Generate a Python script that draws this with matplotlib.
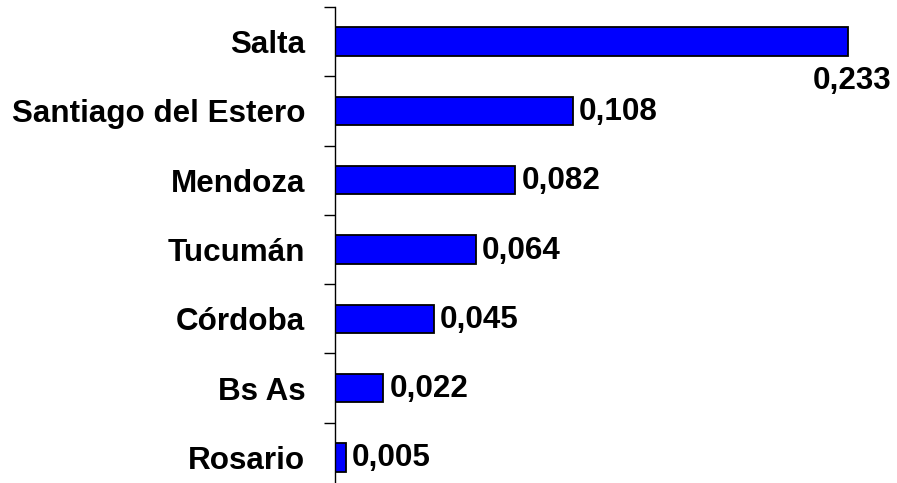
import matplotlib.pyplot as plt
from matplotlib.ticker import FixedLocator

plt.rcParams['font.family'] = ['Liberation Sans', 'DejaVu Sans']

ciudades = ['Salta', 'Santiago del Estero', 'Mendoza', 'Tucumán', 'Córdoba', 'Bs As', 'Rosario']
valores = [0.233, 0.108, 0.082, 0.064, 0.045, 0.022, 0.005]
etiquetas = ['0,233', '0,108', '0,082', '0,064', '0,045', '0,022', '0,005']

fs = 22.6

fig = plt.figure(figsize=(8.97, 4.83), dpi=100)
ax = fig.add_axes([335 / 897, (483 - 492) / 483, 550 / 897, 485 / 483])

pos = list(range(len(ciudades)))
ax.barh(pos, valores, height=0.41, color='#0000ff', edgecolor='black', linewidth=1.3)

ax.set_xlim(0, 0.25)
ax.set_ylim(len(ciudades) - 0.5, -0.5)

for i, (v, t) in enumerate(zip(valores, etiquetas)):
    if i == 0:
        # etiqueta de Salta va debajo de la barra
        ax.annotate(t, xy=(v, i), xytext=(-35, -39), textcoords='offset pixels',
                    ha='left', va='center', fontsize=fs, fontweight='bold')
    else:
        ax.annotate(t, xy=(v, i), xytext=(6, -1), textcoords='offset pixels',
                    ha='left', va='center', fontsize=fs, fontweight='bold')

ax.set_yticks(pos)
ax.set_yticklabels(ciudades, fontsize=fs, fontweight='bold')
ax.tick_params(axis='y', which='major', length=0, pad=21.5)
ax.yaxis.set_minor_locator(FixedLocator([p - 0.5 for p in pos] + [len(pos) - 0.5]))
ax.tick_params(axis='y', which='minor', length=8, width=1, direction='out')

ax.set_xticks([])
for s in ['top', 'right', 'bottom']:
    ax.spines[s].set_visible(False)
ax.spines['left'].set_linewidth(1)

fig.savefig('out.png', dpi=100)
